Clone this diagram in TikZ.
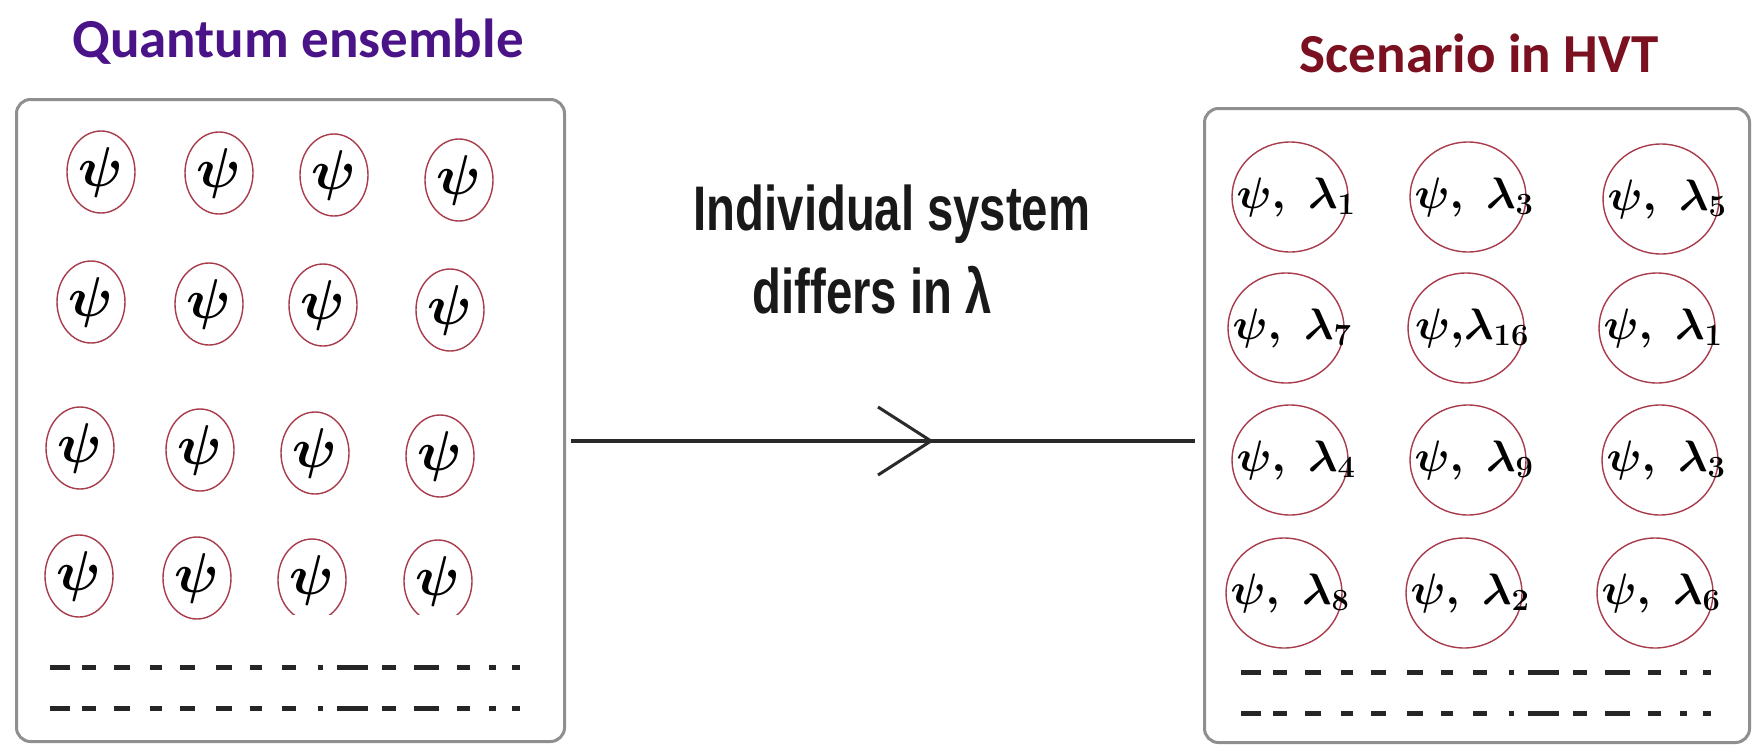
\RequirePackage{fix-cm}
\documentclass[tikz,border=0pt]{standalone}
\usepackage{amsmath}
\usepackage{fontspec}
\usetikzlibrary{shapes.geometric}
\newfontfamily\titlefont{Carlito}
\newfontfamily\narrowfont{Liberation Sans}[FakeStretch=0.75]
\definecolor{boxgray}{HTML}{8F8F8F}
\definecolor{ellred}{HTML}{A83C4C}
\definecolor{titlepurple}{HTML}{4A1488}
\definecolor{titlered}{HTML}{7A1020}
\definecolor{linegray}{HTML}{2A2A2A}
\newcommand{\psisz}{\fontsize{56}{60}\selectfont}
\newcommand{\lamsz}{\fontsize{44}{48}\selectfont}
\newcommand{\pl}[1]{$\boldsymbol{\psi,\;\lambda_{#1}}$}
\newcommand{\ps}{$\boldsymbol{\psi}$}
\begin{document}
\begin{tikzpicture}[x=1pt,y=-1pt,
  box/.style={draw=boxgray, line width=3pt, rounded corners=14pt, fill=white, inner sep=0pt},
  psinode/.style={ellipse, draw=ellred, line width=1.4pt, minimum width=68pt, minimum height=82pt, inner sep=0pt, font=\psisz},
  lamnode/.style={ellipse, draw=ellred, line width=1.4pt, minimum width=116pt, minimum height=110pt, inner sep=0pt},
  lamlabel/.style={font=\lamsz, inner sep=0pt, xshift=6pt},
  dashline/.style={line width=5pt, draw=black!85, dash pattern=on 19.6pt off 12.5pt on 14.3pt off 17.9pt on 16pt off 19.6pt on 12.5pt off 17.9pt on 14.3pt off 21.4pt on 16pt off 17.9pt on 12.5pt off 19.6pt on 14.3pt off 21.4pt on 5.4pt off 14.3pt on 30.4pt off 14.3pt on 14.3pt off 17.9pt on 25pt off 17.9pt on 12.5pt off 19.6pt on 7.1pt off 16pt on 7.1pt off 40pt},
  conn/.style={draw=linegray, line width=3.5pt},
  midtext/.style={font=\narrowfont\bfseries\fontsize{63}{70}\selectfont, anchor=base, inner sep=0pt, text=black!90},
  ttl/.style={font=\titlefont\bfseries\fontsize{55}{60}\selectfont, anchor=base, inner sep=0pt}
]
\useasboundingbox[fill=white] (0,0) rectangle (1758,747);

% titles
\node[ttl, text=titlepurple] (title1) at (298,57) {Quantum ensemble};
\node[ttl, text=titlered] (title2) at (1479,72) {Scenario in HVT};

% boxes
\node[box, anchor=north west, minimum width=548pt, minimum height=642pt] (L) at (15,98) {};
\node[box, anchor=north west, minimum width=545pt, minimum height=634pt] (R) at (1203,107) {};

% left ensemble
\node[psinode] (p11) at (101,172) {\ps};
\node[psinode] (p12) at (219,173) {\ps};
\node[psinode] (p13) at (334,175) {\ps};
\node[psinode] (p14) at (459,180) {\ps};
\node[psinode] (p21) at (91,302) {\ps};
\node[psinode] (p22) at (209,304) {\ps};
\node[psinode] (p23) at (323,305) {\ps};
\node[psinode] (p24) at (450,310) {\ps};
\node[psinode] (p31) at (80,448) {\ps};
\node[psinode] (p32) at (200,450) {\ps};
\node[psinode] (p33) at (315,453) {\ps};
\node[psinode] (p34) at (440,456) {\ps};
\node[psinode] (p41) at (79,576) {\ps};
\node[psinode] (p42) at (197,578) {\ps};
\begin{scope}
  \clip (260,520) rectangle (520,614);
  \node[psinode] (p43) at (312,580) {\ps};
  \node[psinode] (p44) at (438,581) {\ps};
\end{scope}

% left dashes
\coordinate (ld1a) at (50,667); \coordinate (ld1b) at (520,667);
\coordinate (ld2a) at (50,708); \coordinate (ld2b) at (520,708);
\draw[dashline] (ld1a) -- (ld1b);
\draw[dashline] (ld2a) -- (ld2b);

% right scenario
\node[lamnode, label={[lamlabel]center:\pl{1}}] (q11) at (1290,197) {};
\node[lamnode, label={[lamlabel]center:\pl{3}}] (q12) at (1468,197) {};
\node[lamnode, label={[lamlabel]center:\pl{5}}] (q13) at (1661,199) {};
\node[lamnode, label={[lamlabel]center:\pl{7}}] (q21) at (1286,328) {};
\node[lamnode, label={[lamlabel]center:$\boldsymbol{\psi,\!\lambda_{16}}$}] (q22) at (1466,328) {};
\node[lamnode, label={[lamlabel]center:\pl{1}}] (q23) at (1657,328) {};
\node[lamnode, label={[lamlabel]center:\pl{4}}] (q31) at (1290,460) {};
\node[lamnode, label={[lamlabel]center:\pl{9}}] (q32) at (1468,460) {};
\node[lamnode, label={[lamlabel]center:\pl{3}}] (q33) at (1660,460) {};
\node[lamnode, label={[lamlabel]center:\pl{8}}] (q41) at (1284,593) {};
\node[lamnode, label={[lamlabel]center:\pl{2}}] (q42) at (1464,593) {};
\node[lamnode, label={[lamlabel]center:\pl{6}}] (q43) at (1655,593) {};

% right dashes
\coordinate (rd1a) at (1241,672); \coordinate (rd1b) at (1713,672);
\coordinate (rd2a) at (1241,713); \coordinate (rd2b) at (1713,713);
\draw[dashline] (rd1a) -- (rd1b);
\draw[dashline] (rd2a) -- (rd2b);

% middle text
\node[midtext] (t1) at (892,230) {Individual system};
\node[midtext] (t2) at (872,313) {differs in λ};

% connector
\coordinate (ay) at (0,441);
\draw[conn, shorten <=5pt, shorten >=8pt] (ay -| L.east) -- (ay -| R.west);
\coordinate (tip) at (931,441);
\draw[conn, line width=3pt] ([shift={(-53,-34)}]tip) -- (tip) -- ([shift={(-53,34)}]tip);
\end{tikzpicture}
\end{document}
